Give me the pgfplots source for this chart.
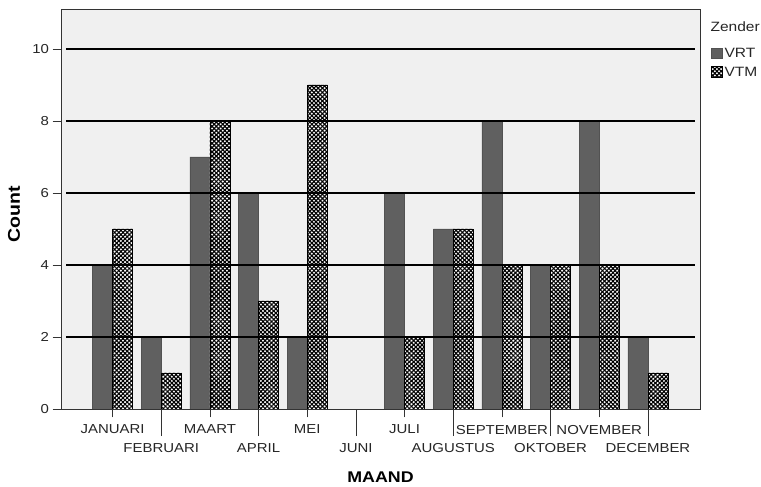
\documentclass[border=0pt]{standalone}
\usepackage{fontspec}
\setmainfont{Liberation Sans}[FakeStretch=1.15]
\usepackage{pgfplots}
\pgfplotsset{compat=1.18}
\usetikzlibrary{patterns.meta}
\definecolor{vrt}{HTML}{606060}
\definecolor{bg}{HTML}{F0F0F0}
\definecolor{frame}{HTML}{333333}
\tikzset{checker/.style={fill=white, draw=black, line width=0.8pt,
  postaction={pattern={Lines[angle=45,distance=3pt,line width=1.15pt]}},
  postaction={pattern={Lines[angle=-45,distance=3pt,line width=1.15pt]}}}}
\begin{document}
\begin{tikzpicture}
\begin{axis}[name=ax,
  width=639pt, height=400pt, scale only axis,
  axis on top, clip=false,
  axis background/.style={fill=bg},
  axis line style={frame, line width=0.8pt},
  ybar=0pt, bar width=20pt,
  xmin=-1.06, xmax=12.07, ymin=0, ymax=11.11,
  ytick={0,2,...,10}, ytick pos=left,
  tick align=outside, major tick length=8.5pt,
  tick style={frame, line width=0.8pt},
  xtick={0,2,...,10}, xtick pos=bottom,
  xticklabels={JANUARI,MAART,MEI,JULI,SEPTEMBER,NOVEMBER},
  xticklabel style={yshift=-4pt},
  extra x ticks={1,3,...,11},
  extra x tick labels={FEBRUARI,APRIL,JUNI,AUGUSTUS,OKTOBER,DECEMBER},
  extra x tick style={major tick length=27pt},
  tick label style={font=\fontsize{13}{15}\selectfont, text=black!85},
  /pgf/number format/assume math mode=true,
  xlabel={MAAND}, ylabel={Count},
  xlabel style={font=\bfseries\fontsize{15.5}{18}\selectfont, at={(axis description cs:0.5,0)}, anchor=center, yshift=-68.5pt},
  ylabel style={font=\bfseries\fontsize{17}{19}\selectfont, at={(axis description cs:0,0.5)}, anchor=center, yshift=47pt, xshift=-5pt},
  legend style={draw=none, fill=none, at={(axis description cs:1,1)}, anchor=north west,
    xshift=8pt, yshift=-35pt, row sep=4pt, font=\fontsize{13.5}{15}\selectfont, text=black!85},
  legend cell align=left,
  legend image code/.code={\draw[#1] (0pt,-5pt) rectangle (10.5pt,5.5pt);},
]
% JUNI has no programmes (0 for both), so no bars there
\addplot[fill=vrt, draw=vrt!85!black] coordinates {
  (0,4) (1,2) (2,7) (3,6) (4,2) (6,6) (7,5) (8,8) (9,4) (10,8) (11,2)};
\addplot[checker] coordinates {
  (0,5) (1,1) (2,8) (3,3) (4,9) (6,2) (7,5) (8,4) (9,4) (10,4) (11,1)};
\legend{VRT,VTM}
\pgfplotsinvokeforeach{2,4,6,8,10}{
  \draw[black, line width=1.2pt] (axis cs:-0.957,#1) -- (axis cs:11.967,#1);
}
\node[anchor=west, font=\fontsize{13.5}{15}\selectfont, text=black!85] at (axis description cs:1,1) [xshift=7pt, yshift=-18pt] {Zender};
\end{axis}
\pgfresetboundingbox
\path (ax.south west) ++(-61pt,-78pt) coordinate (bl);
\path (ax.north east) ++(61pt,9pt) coordinate (tr);
\path[use as bounding box] (bl) rectangle (tr);
\end{tikzpicture}
\end{document}
